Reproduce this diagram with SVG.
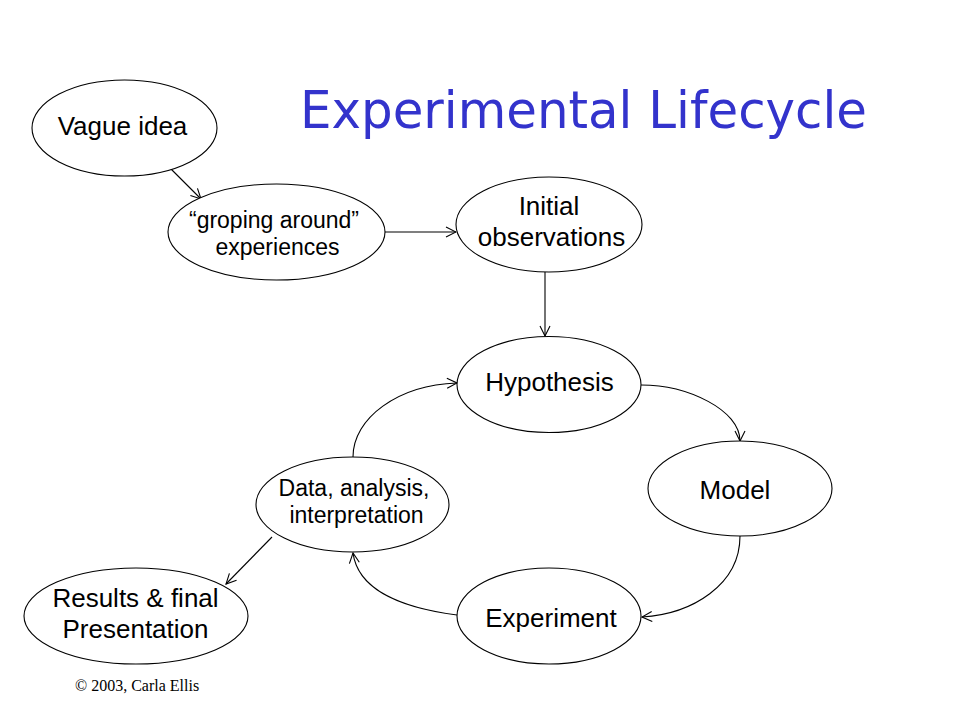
<svg xmlns="http://www.w3.org/2000/svg" width="960" height="720" viewBox="0 0 960 720">
<defs>
<style>
.n{fill:#fff;stroke:#000;stroke-width:1.1}
.t{font-family:"Liberation Sans",Arial,sans-serif;fill:#000;text-anchor:middle}
.c{fill:none;stroke:#000;stroke-width:1.1}
</style>
<marker id="a" viewBox="0 0 12 12" refX="11" refY="6" markerWidth="12" markerHeight="12" markerUnits="userSpaceOnUse" orient="auto">
<path d="M1,1 L11,6 L1,11" fill="none" stroke="#000" stroke-width="1.1"/>
</marker>
</defs>
<rect width="960" height="720" fill="#fff"/>
<text id="title" x="300" y="128" font-family="'DejaVu Sans','Noto Sans',sans-serif" font-size="52" fill="#3333cc" textLength="567" lengthAdjust="spacingAndGlyphs">Experimental Lifecycle</text>
<g id="connectors">
<line class="c" x1="170" y1="168" x2="201" y2="199" marker-end="url(#a)"/>
<line class="c" x1="385" y1="232" x2="456" y2="232" marker-end="url(#a)"/>
<line class="c" x1="545" y1="272" x2="545" y2="336" marker-end="url(#a)"/>
<path class="c" d="M641,385 C688,385 740,410 740,441" marker-end="url(#a)"/>
<path class="c" d="M740,536 C740,585 692,614 642,617" marker-end="url(#a)"/>
<path class="c" d="M457,615 C402,608 358,590 353,553" marker-end="url(#a)"/>
<path class="c" d="M353,457 C353,418 398,385 457,383" marker-end="url(#a)"/>
<line class="c" x1="272" y1="537" x2="226" y2="584" marker-end="url(#a)"/>
</g>
<g id="vague">
<ellipse class="n" cx="124.5" cy="128" rx="92.5" ry="48"/>
<text class="t" x="122.5" y="135" font-size="26">Vague idea</text>
</g>
<g id="groping">
<ellipse class="n" cx="276.5" cy="232" rx="108.5" ry="48"/>
<text class="t" x="274" y="228" font-size="23">“groping around”</text>
<text class="t" x="277.5" y="255" font-size="23">experiences</text>
</g>
<g id="initial">
<ellipse class="n" cx="549" cy="224.5" rx="93" ry="47.5"/>
<text class="t" x="549" y="215" font-size="26">Initial</text>
<text class="t" x="551.5" y="246" font-size="26">observations</text>
</g>
<g id="hypothesis">
<ellipse class="n" cx="549" cy="384.5" rx="92" ry="48"/>
<text class="t" x="549.5" y="391" font-size="26">Hypothesis</text>
</g>
<g id="model">
<ellipse class="n" cx="740" cy="488.5" rx="92" ry="47.5"/>
<text class="t" x="735" y="499" font-size="26">Model</text>
</g>
<g id="experiment">
<ellipse class="n" cx="549" cy="616" rx="92" ry="48"/>
<text class="t" x="551" y="627" font-size="26">Experiment</text>
</g>
<g id="data">
<ellipse class="n" cx="352.5" cy="504.5" rx="96.5" ry="47.5"/>
<text class="t" x="354" y="496" font-size="23">Data, analysis,</text>
<text class="t" x="356.5" y="523" font-size="23">interpretation</text>
</g>
<g id="results">
<ellipse class="n" cx="136" cy="616" rx="112" ry="48"/>
<text class="t" x="135.5" y="607" font-size="26">Results &amp; final</text>
<text class="t" x="135.5" y="638" font-size="26">Presentation</text>
</g>
<text id="copyright" x="75" y="691" font-family="'Liberation Serif','Times New Roman',serif" font-size="16" fill="#000">© 2003, Carla Ellis</text>
</svg>
